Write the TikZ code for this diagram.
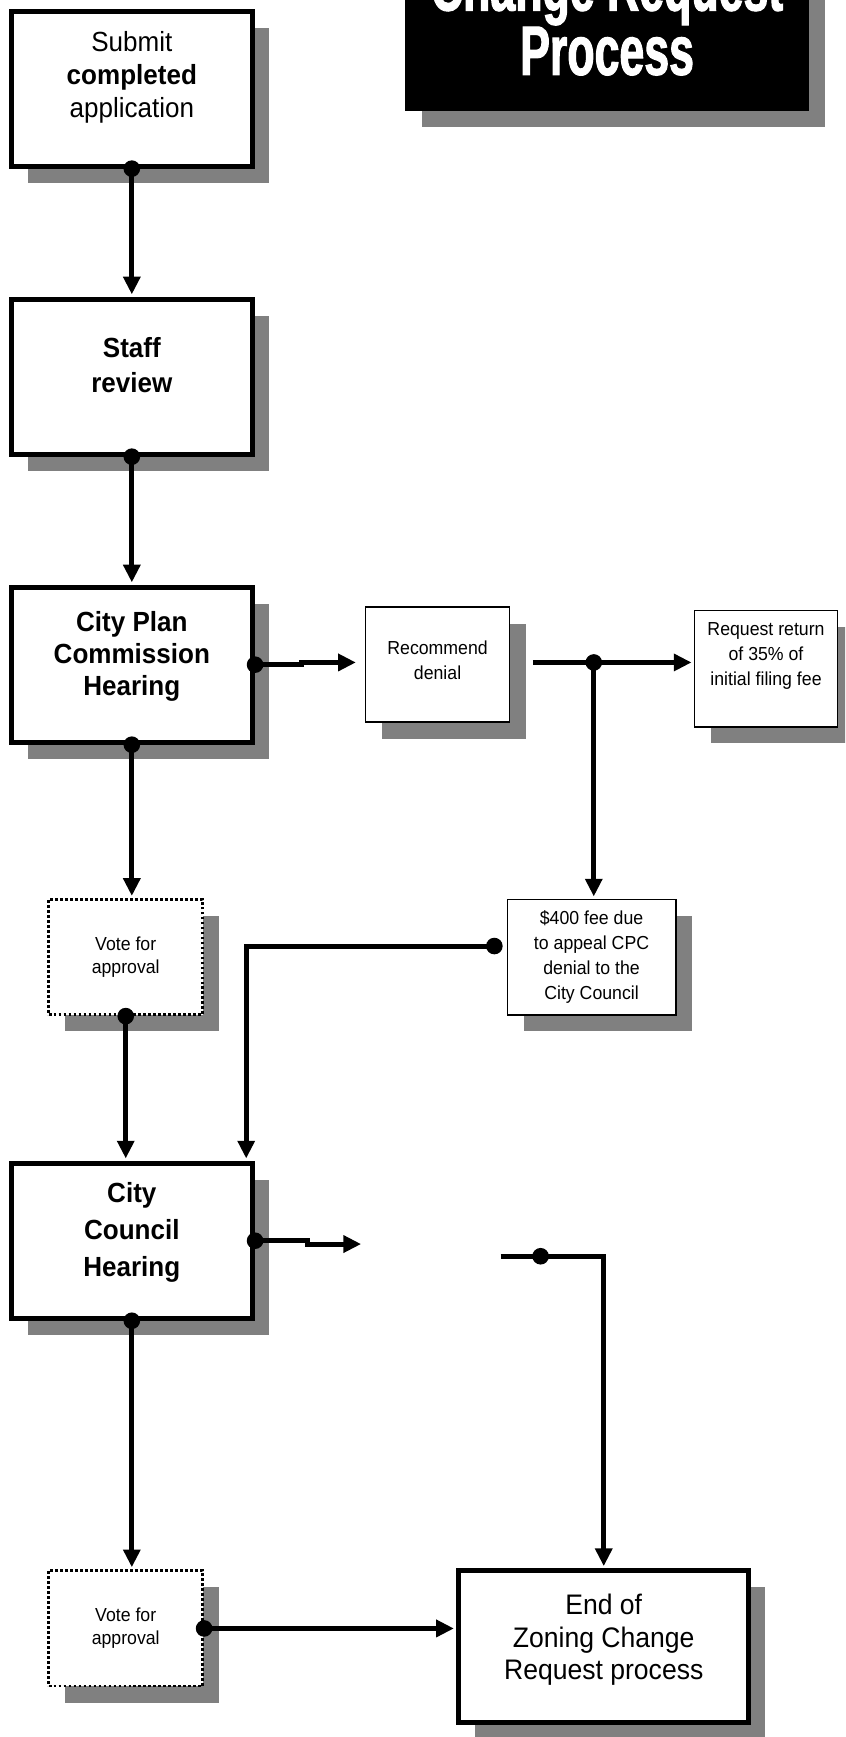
\documentclass[tikz,border=0pt]{standalone}
\usepackage{fontspec}
\setmainfont{Liberation Sans}[FakeStretch=0.94]
\newfontfamily\titlefont{Liberation Sans}[FakeStretch=0.64, BoldFeatures={FakeBold=1.5}]
\usepackage{tikz}
\usetikzlibrary{arrows.meta, shadows}
\definecolor{shadowgray}{RGB}{128,128,128}
\newcommand{\padbelow}[1]{\rule[-#1]{0pt}{#1}}

\begin{document}
\begin{tikzpicture}[x=1pt, y=-1pt,
        every node/.style={align=center, inner sep=0pt},
        boxshadow/.style={general shadow={fill=shadowgray, shadow xshift=15pt, shadow yshift=-15pt}},
        bigbox/.style={draw, line width=4.5pt, fill=white, boxshadow, minimum width=218pt, minimum height=140pt, font=\fontsize{25pt}{30pt}\selectfont},
        smallbox/.style={draw, line width=1.5pt, fill=white, boxshadow, minimum height=104pt, font=\fontsize{17pt}{22.5pt}\selectfont},
        votebox/.style={draw, line width=2.5pt, dash pattern=on 2.5pt off 2pt, fill=white, boxshadow, minimum width=139pt, minimum height=104pt, font=\fontsize{17pt}{21pt}\selectfont},
        link/.style={line width=4.5pt, -{Triangle[length=16pt, width=15pt]}, shorten >=2pt}]
        \useasboundingbox (0,0) rectangle (763,1568);
        \clip (0,0) rectangle (763,1568);
        \node (title) at (548,16) [fill=black, boxshadow, minimum width=364pt, minimum height=168pt, text=white, font=\titlefont\bfseries\fontsize{63pt}{58pt}\selectfont] {Change Request\\Process};
        \node (submit) at (119,80) [bigbox] {Submit\\\textbf{completed}\\application\padbelow{26pt}};
        \node (staff) at (119,340) [bigbox, font=\bfseries\fontsize{25pt}{31pt}\selectfont] {Staff\\review\padbelow{21pt}};
        \node (cpc) at (119,600) [bigbox, font=\bfseries\fontsize{25pt}{29pt}\selectfont] {City Plan\\Commission\\Hearing\padbelow{20pt}};
        \node (recdeny) at (395,600) [smallbox, minimum width=130pt, font=\fontsize{17pt}{22pt}\selectfont] {Recommend\\denial\padbelow{8pt}};
        \node (refund) at (691.5,603.5) [smallbox, minimum width=129pt, minimum height=105pt] {Request return\\of 35\% of\\initial filing fee\padbelow{27pt}};
        \node (vote1) at (113.5,864) [votebox] {Vote for\\approval};
        \node (appeal) at (534,864) [smallbox, minimum width=152pt] {\$400 fee due\\to appeal CPC\\denial to the\\City Council};
        \node (cc) at (119,1120) [bigbox, font=\bfseries\fontsize{25pt}{33.5pt}\selectfont] {City\\Council\\Hearing\padbelow{20pt}};
        \node (vote2) at (113.5,1470) [votebox] {Vote for\\approval};
        \node (endp) at (545,1486.5) [bigbox, minimum width=262pt, minimum height=137pt, font=\fontsize{25.5pt}{29.5pt}\selectfont] {End of\\Zoning Change\\Request process\padbelow{17.5pt}};
        \coordinate (splitin) at (481,598);
        \coordinate (split) at (536,598);
        \coordinate (ccout) at (328,1123);
        \coordinate (ccin) at (452,1134);
        \coordinate (ccdot) at (488,1134);
        \draw [link] (submit.south) -- (staff.north);
        \draw [link] (staff.south) -- (cpc.north);
        \draw [link, shorten >=8pt] (cpc.east) -- ++(42,0) |- ([yshift=2pt]recdeny.west);
        \draw [link] (splitin) -- (split) -- (split -| refund.west);
        \draw [link] (split) -- (split |- appeal.north);
        \draw [link] (cpc.south) -- (cpc.south |- vote1.north);
        \draw [link] (vote1.south) -- (vote1.south |- cc.north);
        \draw [link] ([xshift=-11pt, yshift=10pt]appeal.west) coordinate (appealdot) -| ([xshift=-8pt]cc.north east);
        \draw [link] (cc.east) -- ++(47,0) |- (ccout);
        \draw [link] (ccin) -| (endp.north);
        \draw [link] (cc.south) -- (cc.south |- vote2.north);
        \draw [link] (vote2.east) -- (vote2.east -| endp.west);
        \foreach \p in {submit.south, staff.south, cpc.east, cpc.south, split, vote1.south, appealdot, cc.east, ccdot, cc.south, vote2.east}
            \fill (\p) circle [radius=7.5pt];
\end{tikzpicture}
\end{document}
